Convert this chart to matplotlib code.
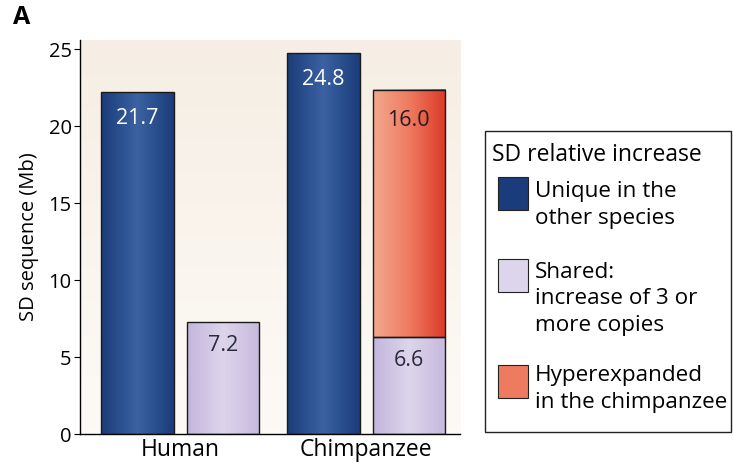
import matplotlib.pyplot as plt
import numpy as np
from matplotlib.colors import LinearSegmentedColormap
from matplotlib.patches import Rectangle

plt.rcParams['font.family'] = ['Open Sans', 'DejaVu Sans']

# data (bar heights as drawn, labels as printed)
species = ['Human', 'Chimpanzee']
unique_h = [22.2, 24.75]
unique_lbl = ['21.7', '24.8']
shared_h = [7.25, 6.3]
shared_lbl = ['7.2', '6.6']
hyper_h = [0, 16.05]
hyper_lbl = ['', '16.0']

blue = ['#1b3c7a', '#3b62a2', '#1b3c7a']
lav = ['#c3b6dc', '#ddd5ec', '#c6b9dd']
red = ['#f3a88e', '#ee7a60', '#dc3a28']

def grad(ax, x, y0, h, w, cols):
    if h <= 0:
        return
    cm_ = LinearSegmentedColormap.from_list('g', cols)
    g = np.linspace(0, 1, 100).reshape(1, -1)
    ax.imshow(g, cmap=cm_, extent=(x - w/2, x + w/2, y0, y0 + h),
              aspect='auto', zorder=2, interpolation='bilinear')
    ax.add_patch(Rectangle((x - w/2, y0), w, h, fill=False,
                           edgecolor='#1a1a1a', lw=1.0, zorder=3))

fig = plt.figure(figsize=(7.33, 4.71), dpi=100)
ax = fig.add_axes([80/733, 37/471, 380/733, 394/471])

# light background gradient
bg = LinearSegmentedColormap.from_list('bg', ['#fdfaf6', '#f6eee4'])
ax.imshow(np.linspace(0, 1, 100).reshape(-1, 1), cmap=bg,
          extent=(-0.6, 1.6, 25.6, 0), aspect='auto', zorder=0)

w = 0.39
off = 0.23
xs = np.arange(len(species))
for i, x in enumerate(xs):
    grad(ax, x - off, 0, unique_h[i], w, blue)
    ax.text(x - off, unique_h[i] - 1.7, unique_lbl[i], ha='center', va='center',
            color='white', fontsize=15.5, zorder=4)
    grad(ax, x + off, 0, shared_h[i], w, lav)
    ax.text(x + off, shared_h[i] - 1.5, shared_lbl[i], ha='center', va='center',
            color='#2a2a3a', fontsize=15.5, zorder=4)
    if hyper_h[i] > 0:
        grad(ax, x + off, shared_h[i], hyper_h[i], w, red)
        ax.text(x + off, shared_h[i] + hyper_h[i] - 2.0, hyper_lbl[i], ha='center',
                va='center', color='#2a1a1a', fontsize=15.5, zorder=4)

ax.set_xlim(-0.538, 1.505)
ax.set_ylim(0, 25.6)
ax.set_yticks([0, 5, 10, 15, 20, 25])
ax.set_xticks(xs)
ax.set_xticklabels(species, fontsize=16.5)
ax.tick_params(axis='x', length=0, pad=3)
ax.tick_params(axis='y', labelsize=14.5, length=4, direction='out', pad=2)
ax.set_ylabel('SD sequence (Mb)', fontsize=14.5, labelpad=7)
for s in ['top', 'right']:
    ax.spines[s].set_visible(False)
ax.spines['left'].set_linewidth(1.0)
ax.spines['bottom'].set_linewidth(1.0)

fig.text(13/733, 1 - 18/471, 'A', fontsize=18, fontweight='bold', ha='left', va='center')

# legend drawn by hand in pixel-based figure coords
def fx(px):
    return px / 733
def fy(py):
    return 1 - py / 471

fig.patches.append(Rectangle((fx(485), fy(432)), fx(731) - fx(485), fy(131) - fy(432),
                             transform=fig.transFigure, fill=False, edgecolor='#222222', lw=1.0))
fig.text(fx(492), fy(155), 'SD relative increase', fontsize=16.5, va='center', ha='left')
leg_items = [
    (blue[0], "Unique in the\nother species", 177, 205),
    (lav[1], "Shared:\nincrease of 3 or\nmore copies", 259, 299),
    (red[1], "Hyperexpanded\nin the chimpanzee", 365, 389),
]
for col, lbl, ptop, tmid in leg_items:
    fig.patches.append(Rectangle((fx(498), fy(ptop + 33)), fx(528) - fx(498), fy(ptop) - fy(ptop + 33),
                                 transform=fig.transFigure, facecolor=col,
                                 edgecolor='#222222', lw=0.8))
    fig.text(fx(535), fy(tmid), lbl, fontsize=16.2, va='center', ha='left', linespacing=1.32)

fig.savefig('out.png', dpi=100)
